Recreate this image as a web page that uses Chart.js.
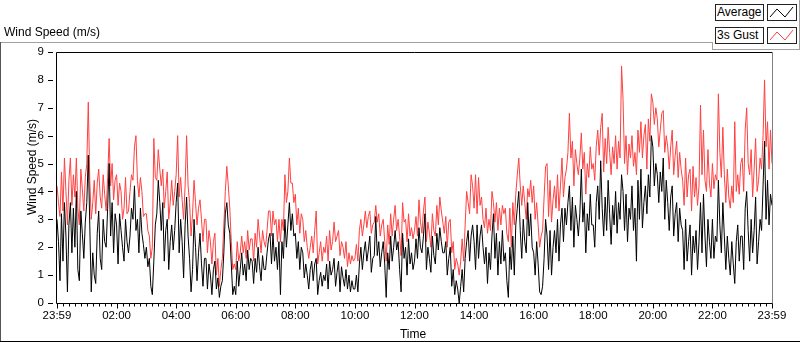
<!DOCTYPE html>
<html><head><meta charset="utf-8">
<script src="https://cdn.jsdelivr.net/npm/chart.js@4.4.1/dist/chart.umd.min.js"></script>
<style>
html,body{margin:0;padding:0;background:#fff;}
#wrap{position:relative;width:800px;height:342px;overflow:hidden;font-family:'Liberation Sans',Arial,sans-serif;font-size:12px;color:#000;}
#c{position:absolute;left:0;top:0;}
.ln{position:absolute;background:#a0a0a0;}
.txt{position:absolute;white-space:nowrap;line-height:14px;}
.lgbox{position:absolute;box-sizing:border-box;border:1px solid #222;background:#fff;height:17px;}
.lgtxt{width:49px;padding-left:1px;line-height:15px;}
.lgico{width:30px;}
.lgico svg{position:absolute;left:0;top:0;}
</style></head>
<body><div id="wrap">
<canvas id="c" width="800" height="342"></canvas>
<div class="ln" style="left:0;top:42px;width:712px;height:1px;"></div>
<div class="ln" style="left:712px;top:42px;width:1px;height:8px;"></div>
<div class="ln" style="left:712px;top:49px;width:88px;height:1px;"></div>
<div class="ln" style="left:799px;top:0;width:1px;height:50px;"></div>
<div class="ln" style="left:0;top:42px;width:1px;height:300px;background:#555;"></div>
<div class="ln" style="left:0;top:341px;width:800px;height:1px;background:#000;"></div>
<div class="txt" style="left:4px;top:25px;">Wind Speed (m/s)</div>
<div class="txt" style="left:363px;top:327px;width:100px;text-align:center;">Time</div>
<div class="txt" style="left:-28px;top:160px;width:120px;text-align:center;transform:rotate(-90deg);">Wind Speed (m/s)</div>
<div class="lgbox lgtxt" style="left:715px;top:4px;">Average</div>
<div class="lgbox lgico" style="left:767px;top:4px;"><svg width="28" height="15"><polyline points="2,12 9,4 17,12 25,2" fill="none" stroke="#000" stroke-width="1"/></svg></div>
<div class="lgbox lgtxt" style="left:715px;top:27px;">3s Gust</div>
<div class="lgbox lgico" style="left:767px;top:27px;"><svg width="28" height="15"><polyline points="2,12 9,4 17,12 25,2" fill="none" stroke="#ff4040" stroke-width="1"/></svg></div>
</div>
<script>
// sampling: every 3 minutes from 23:59 (0 min) to 23:59 (1440 min); one row = one hour
const sampleMinutes = Array.from({length: 481}, (_, i) => i * 3);

const averageSpeed = [
  3.0,2.2,0.8,3.2,1.5,3.6,2.4,0.4,2.8,3.6,1.8,3.4,2.0,4.0,1.2,0.8,3.3,2.5,1.6,2.9,
  3.6,5.3,2.8,0.4,1.8,1.0,0.7,2.5,3.3,1.6,1.2,3.0,2.2,2.0,3.4,5.0,2.4,3.6,1.8,3.2,
  2.8,1.4,3.2,2.6,2.0,1.5,3.0,2.2,1.8,2.4,3.4,3.0,4.2,2.6,3.0,1.8,3.4,2.5,2.1,1.6,
  2.0,1.3,1.6,0.6,0.3,1.5,2.8,3.2,4.4,3.6,2.6,3.6,1.5,2.6,3.0,1.2,2.2,2.8,1.9,2.6,
  3.6,4.3,1.8,3.0,2.2,0.9,2.8,3.8,2.4,1.6,0.4,1.2,3.0,2.0,0.8,1.8,2.5,1.4,0.6,1.6,
  1.6,0.5,1.4,1.0,0.3,1.2,1.5,0.5,0.9,0.2,0.6,0.8,1.8,3.2,3.6,2.8,2.5,1.4,0.3,0.6,
  0.3,1.5,0.6,1.2,1.8,1.0,1.4,0.8,1.9,1.2,1.6,1.5,0.7,1.6,1.1,2.0,1.3,0.8,1.7,1.2,
  1.2,1.8,2.3,2.5,1.4,2.5,1.5,2.0,1.2,2.2,0.3,2.2,1.6,3.0,2.0,2.8,3.6,2.6,3.2,2.4,
  2.5,1.6,2.2,1.2,2.0,1.8,0.9,1.4,1.0,0.5,1.2,1.5,0.8,1.4,1.6,0.3,0.8,1.1,0.6,1.0,
  0.8,1.4,0.5,1.5,1.0,1.2,1.6,0.6,1.1,1.5,0.4,1.3,0.9,0.6,1.2,0.5,1.0,0.4,0.8,0.5,
  0.5,1.0,0.4,1.4,2.0,1.2,1.8,2.2,1.5,1.9,2.4,1.1,1.6,1.7,3.1,1.7,2.2,1.3,1.8,2.2,
  1.4,0.2,1.8,1.2,2.4,1.5,2.0,2.6,1.9,2.2,1.2,0.4,2.5,1.6,2.0,1.0,2.3,1.4,1.8,1.2,
  1.5,2.3,1.6,2.7,2.0,1.8,2.4,3.2,1.2,2.0,1.6,1.1,2.4,1.7,1.4,2.5,1.9,2.7,2.2,1.8,
  1.8,2.2,1.0,1.6,2.0,0.6,1.2,0.3,0.8,0.5,0.0,0.6,1.2,0.4,1.6,2.2,2.6,1.5,2.4,2.8,
  2.2,1.2,2.8,1.6,2.4,2.8,2.0,1.4,2.0,0.7,1.8,1.2,2.4,3.2,1.6,2.5,1.0,2.2,1.4,2.6,
  1.5,1.8,0.8,0.2,2.0,1.2,2.4,1.0,2.8,3.4,4.0,2.6,1.6,3.0,2.2,1.8,3.6,2.4,3.2,2.0,
  1.8,1.0,2.2,1.4,0.4,0.3,0.6,1.6,3.0,2.4,1.2,2.6,1.0,2.0,2.6,1.8,3.0,1.5,2.8,3.4,
  2.2,3.4,2.8,3.6,4.2,2.6,3.8,2.0,3.5,3.0,2.4,3.2,4.8,2.9,3.6,1.8,3.2,2.6,3.9,2.8,
  2.8,2.0,3.6,4.2,3.0,5.1,3.4,2.4,3.8,2.6,4.4,3.2,2.1,3.5,2.8,4.0,2.5,3.6,3.0,4.6,
  4.0,2.6,3.9,2.2,3.4,3.0,4.2,2.6,3.4,1.5,4.4,3.0,4.8,2.7,3.6,4.2,3.2,4.6,3.8,6.0,
  5.6,4.2,5.0,4.6,3.6,4.7,4.0,5.2,3.0,4.4,3.6,2.6,3.8,4.2,2.4,3.2,3.6,2.2,3.4,2.8,
  2.6,1.2,3.0,1.5,2.2,2.8,1.0,2.4,1.8,2.6,1.2,2.2,3.6,1.8,3.9,2.4,1.3,3.0,2.2,1.6,
  3.0,1.6,2.4,2.2,4.4,2.8,1.8,3.6,2.4,1.2,2.4,1.6,1.0,2.2,1.4,0.7,2.2,2.8,1.5,2.4,
  2.4,1.2,3.4,4.0,2.6,1.5,3.0,1.8,2.6,3.8,1.4,2.2,3.0,2.6,4.2,5.8,3.0,4.4,2.8,3.9,
  3.5
];

const gustSpeed = [
  4.2,3.6,3.1,4.7,3.3,5.2,4.0,2.8,4.4,5.2,3.5,4.6,3.8,5.2,3.4,2.8,4.8,4.1,3.3,4.5,
  5.0,7.2,4.4,3.0,3.6,4.4,3.2,4.3,4.8,3.8,3.4,4.6,3.9,3.3,4.5,5.9,4.2,5.0,3.7,4.4,
  4.6,3.5,4.3,4.0,3.0,3.4,4.5,3.2,3.3,4.0,4.6,4.4,5.6,6.0,4.4,3.8,4.5,4.0,3.1,3.2,
  3.2,2.6,2.4,1.6,2.0,5.9,4.5,4.4,5.5,4.8,4.2,4.8,3.4,4.0,4.7,3.0,3.6,4.4,3.5,4.0,
  4.6,6.0,3.8,4.5,3.7,3.0,4.2,6.0,4.2,3.6,2.4,3.2,4.4,3.6,2.8,3.4,3.7,3.0,2.2,3.0,
  3.0,1.8,2.6,2.2,1.4,2.2,2.5,1.0,1.6,0.6,1.2,1.6,2.8,4.0,4.9,4.2,3.4,2.2,1.2,1.4,
  1.2,2.2,1.5,1.8,2.4,1.8,2.2,1.6,2.6,1.9,2.3,2.3,1.5,2.5,2.0,3.0,2.4,1.8,2.6,2.2,
  2.0,2.6,3.3,3.3,2.4,3.3,2.8,3.0,2.2,3.0,2.2,3.0,2.6,4.6,3.6,4.0,5.2,4.3,4.3,3.6,
  3.9,2.8,3.4,2.5,3.2,3.0,2.2,2.6,2.0,1.6,2.0,2.4,1.8,2.6,3.3,1.4,1.8,2.2,1.5,2.0,
  1.8,2.4,1.5,2.6,1.9,2.2,2.9,2.2,2.4,2.6,1.7,2.2,2.0,1.6,2.2,1.3,1.8,1.4,1.7,1.5,
  1.6,2.1,1.5,2.6,3.0,2.4,2.8,3.3,2.7,3.1,3.3,2.5,2.8,2.9,3.5,2.9,3.2,2.4,2.8,3.0,
  2.2,1.5,2.8,2.1,3.2,2.4,3.0,3.5,2.6,3.0,2.4,1.7,3.6,2.9,3.0,2.2,3.2,2.4,2.7,2.3,
  2.6,3.1,2.4,3.7,2.9,2.5,3.3,3.8,2.2,2.9,2.5,2.0,3.2,2.6,2.4,3.5,2.8,3.8,3.3,2.9,
  2.5,3.1,2.0,2.9,3.0,1.8,2.2,1.2,1.6,1.4,1.0,1.5,2.3,1.5,2.8,4.0,3.6,3.2,4.6,4.2,
  3.4,4.6,3.2,4.5,3.5,3.8,3.0,2.7,3.4,2.5,3.0,2.6,4.0,3.6,2.9,3.6,2.6,3.4,2.8,3.5,
  3.2,3.4,2.5,2.2,3.4,2.0,3.6,2.8,3.9,4.6,5.2,4.2,3.5,4.2,3.6,3.0,4.1,3.8,4.4,3.6,
  4.2,3.0,3.6,2.8,2.0,2.4,2.6,3.8,4.9,5.0,3.1,4.4,2.9,3.7,4.2,3.4,4.6,3.3,4.2,5.2,
  3.8,4.5,4.8,5.4,6.8,5.2,5.8,4.2,5.5,5.0,4.6,5.2,6.1,4.8,5.4,3.9,5.0,4.5,5.6,4.8,
  5.0,4.4,5.6,6.2,5.3,6.3,6.8,4.7,5.9,5.0,6.3,5.4,4.6,5.6,5.0,6.0,4.8,5.8,5.2,8.5,
  7.3,5.0,6.0,4.6,5.7,5.2,6.0,4.9,5.4,4.6,6.2,5.4,6.5,5.2,6.0,6.4,4.8,6.6,5.8,7.5,
  7.2,6.4,7.0,6.6,5.6,6.2,6.8,6.9,5.4,6.0,5.6,4.8,5.6,6.2,4.6,5.3,5.8,4.5,5.4,4.8,
  4.4,3.5,5.2,3.8,4.6,4.8,3.3,4.9,3.8,4.5,3.5,4.2,7.1,4.6,6.2,4.4,4.0,5.5,4.3,3.8,
  5.0,4.1,4.6,4.4,7.5,5.4,4.5,6.3,4.6,3.6,4.8,3.8,3.4,4.2,3.6,6.5,4.0,4.6,3.9,5.0,
  5.2,4.0,6.2,7.0,5.0,4.6,5.5,3.8,4.8,5.9,4.0,4.4,5.2,4.8,6.0,8.0,5.6,6.5,4.8,6.2,
  5.0
];

const timeTickLabels = ['23:59','02:00','04:00','06:00','08:00','10:00','12:00','14:00','16:00','18:00','20:00','22:00','23:59'];
const speedTickLabels = ['0','1','2','3','4','5','6','7','8','9'];

const FONT = {family: "'Liberation Sans', Arial, sans-serif", size: 11.5};

const frameAndTicks = {
  id: 'frameAndTicks',
  afterDraw(chart) {
    const {ctx, chartArea: a, scales: {x, y}} = chart;
    ctx.save();
    ctx.lineWidth = 1;
    const L = a.left - 0.5, R = a.right + 0.5, T = a.top + 0.5, B = a.bottom + 0.5;
    ctx.strokeStyle = '#000';
    ctx.beginPath();
    ctx.moveTo(L, T); ctx.lineTo(R, T);
    ctx.moveTo(L, T); ctx.lineTo(L, B);
    ctx.moveTo(L, B); ctx.lineTo(R, B);
    ctx.stroke();
    ctx.strokeStyle = '#808080';
    ctx.beginPath();
    ctx.moveTo(R, T); ctx.lineTo(R, B);
    ctx.stroke();
    ctx.strokeStyle = '#000';
    ctx.beginPath();
    for (let m = 0; m <= 1440; m += 12) {
      const px = Math.round(x.getPixelForValue(m)) + 0.5;
      const len = (m % 120 === 0) ? 5 : 3;
      ctx.moveTo(px, B); ctx.lineTo(px, B + len);
    }
    for (let v = 0; v < speedTickLabels.length; v++) {
      const py = Math.round(y.getPixelForValue(v)) + 0.5;
      ctx.moveTo(a.left - 9, py); ctx.lineTo(a.left - 4, py);
    }
    ctx.stroke();
    ctx.restore();
  }
};

new Chart(document.getElementById('c'), {
  type: 'line',
  data: {
    labels: sampleMinutes,
    datasets: [
      {label: 'Average', data: averageSpeed, borderColor: '#000000', borderWidth: 1, pointRadius: 0, tension: 0, fill: false},
      {label: '3s Gust', data: gustSpeed, borderColor: '#ff4040', borderWidth: 1, pointRadius: 0, tension: 0, fill: false}
    ]
  },
  options: {
    responsive: false,
    animation: false,
    events: [],
    layout: {padding: {left: 0, top: 52, right: 28, bottom: 0}},
    plugins: {legend: {display: false}, tooltip: {enabled: false}, title: {display: false}},
    scales: {
      x: {
        type: 'linear', min: 0, max: 1440,
        grid: {display: false, drawTicks: false},
        border: {display: false},
        afterFit(s) { s.height = 39; },
        ticks: {
          stepSize: 120, autoSkip: false, maxRotation: 0, padding: 6,
          color: '#000', font: FONT,
          callback: (v) => timeTickLabels[Math.round(v / 120)]
        }
      },
      y: {
        min: 0, max: 9,
        grid: {display: false, drawTicks: false},
        border: {display: false},
        afterFit(s) { s.width = 57; },
        ticks: {
          stepSize: 1, padding: 13, color: '#000', font: FONT,
          callback: (v) => speedTickLabels[v]
        }
      }
    }
  },
  plugins: [frameAndTicks]
});
</script>
</body></html>
